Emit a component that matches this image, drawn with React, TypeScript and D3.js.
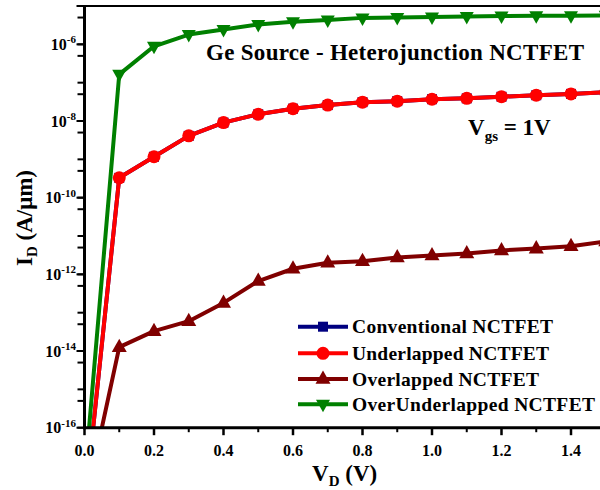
import React from "react";
import * as d3 from "d3";

const vd = [0, 0.1, 0.2, 0.3, 0.4, 0.5, 0.6, 0.7, 0.8, 0.9, 1.0, 1.1, 1.2, 1.3, 1.4, 1.5];
const conventional = [6.8e-19, 3.3e-10, 1.17e-9, 4.1e-9, 9.1e-9, 1.5e-8, 2.1e-8, 2.6e-8, 3.1e-8, 3.3e-8, 3.7e-8, 3.9e-8, 4.3e-8, 4.7e-8, 5.1e-8, 5.6e-8];
const underlapped = [6.8e-19, 3.3e-10, 1.17e-9, 4.1e-9, 9.1e-9, 1.5e-8, 2.1e-8, 2.6e-8, 3.1e-8, 3.3e-8, 3.7e-8, 3.9e-8, 4.3e-8, 4.7e-8, 5.1e-8, 5.6e-8];
const overlapped = [8e-19, 1.26e-14, 3.3e-14, 6e-14, 1.8e-13, 6.7e-13, 1.4e-12, 2e-12, 2.2e-12, 2.75e-12, 3.1e-12, 3.5e-12, 4.2e-12, 4.7e-12, 5.4e-12, 7.2e-12];
const overUnderlapped = [4e-18, 1.65e-7, 8.9e-7, 1.8e-6, 2.45e-6, 3.3e-6, 3.9e-6, 4.3e-6, 4.9e-6, 5.0e-6, 5.2e-6, 5.35e-6, 5.5e-6, 5.55e-6, 5.6e-6, 5.7e-6];

const seriesNames = ["Conventional NCTFET", "Underlapped NCTFET", "Overlapped NCTFET", "OverUnderlapped NCTFET"];
const seriesColors = ["#000080", "#ff0000", "#800000", "#008000"];
const seriesMarkers = ["square", "circle", "triangleUp", "triangleDown"];
const seriesValues = [conventional, underlapped, overlapped, overUnderlapped];
const legendWidths = [201, 197, 187, 243];

const xMajor = [0, 0.2, 0.4, 0.6, 0.8, 1.0, 1.2, 1.4];
const xMinor = [0.1, 0.3, 0.5, 0.7, 0.9, 1.1, 1.3, 1.5];
const yMajorExp = [-16, -14, -12, -10, -8, -6];

const FONT = "'Liberation Serif', 'Times New Roman', serif";

function Marker({ type, x, y, color }: { type: string; x: number; y: number; color: string }) {
  if (type === "square") return <rect x={x - 5} y={y - 5} width={10} height={10} fill={color} />;
  if (type === "circle") return <circle cx={x} cy={y} r={6.5} fill={color} />;
  if (type === "triangleUp") {
    const p = d3.path();
    p.moveTo(x, y - 8.5); p.lineTo(x + 7.5, y + 4.8); p.lineTo(x - 7.5, y + 4.8); p.closePath();
    return <path d={p.toString()} fill={color} />;
  }
  const p = d3.path();
  p.moveTo(x, y + 8); p.lineTo(x + 7, y - 4.5); p.lineTo(x - 7, y - 4.5); p.closePath();
  return <path d={p.toString()} fill={color} />;
}

export default function App() {
  const x = d3.scaleLinear().domain([0, 1.5]).range([84.5, 605.75]);
  const y = d3.scaleLog().domain([1e-16, 1e-5]).range([427.7, 6]);
  const [x0, x1] = x.range();
  const [yb, yt] = y.range();

  const line = d3.line<number>().x((_, i) => x(vd[i])).y((d) => y(d));

  const yMinor: number[] = [];
  for (let e = -16; e <= -5; e++) {
    yMinor.push(Math.pow(10, e));
    if (e < -5) yMinor.push(5 * Math.pow(10, e));
  }

  const legendRows = [326.7, 353.3, 379, 404.3];

  return (
    <svg width={600} height={490} style={{ position: "fixed", left: 0, top: 0, background: "#fff" }} fontFamily={FONT}>
      <rect x={0} y={0} width={600} height={490} fill="#fff" />
      <defs>
        <clipPath id="plotClip">
          <rect x={x0} y={yt} width={x1 - x0} height={yb - yt} />
        </clipPath>
      </defs>

      {/* series */}
      <g clipPath="url(#plotClip)">
        {seriesValues.map((vals, si) => (
          <g key={si}>
            <path d={line(vals) || ""} fill="none" stroke={seriesColors[si]} strokeWidth={4} strokeLinejoin="round" />
            {vals.map((v, i) => (i === 0 ? null : <Marker key={i} type={seriesMarkers[si]} x={x(vd[i])} y={y(v)} color={seriesColors[si]} />))}
          </g>
        ))}
      </g>

      {/* frame */}
      <line x1={x0 - 8} x2={x1} y1={yt} y2={yt} stroke="#000" strokeWidth={2} />
      <line x1={x0} x2={x0} y1={yt - 1} y2={yb + 1.5} stroke="#000" strokeWidth={3} />
      <line x1={x0 - 1.5} x2={x1} y1={yb} y2={yb} stroke="#000" strokeWidth={3} />

      {/* y ticks */}
      {yMinor.map((v, i) => (
        <line key={"ym" + i} x1={x0 - 7} x2={x0} y1={y(v)} y2={y(v)} stroke="#000" strokeWidth={2} />
      ))}
      {yMajorExp.map((e) => (
        <g key={"yl" + e}>
          <line x1={x0 - 8} x2={x0} y1={y(Math.pow(10, e))} y2={y(Math.pow(10, e))} stroke="#000" strokeWidth={2} />
          <text x={76} y={y(Math.pow(10, e)) + 5.5} textAnchor="end" fontSize={16} fontWeight="bold" fill="#000">
            10<tspan fontSize={11} dy={-6.5}>{"-" + Math.abs(e)}</tspan>
          </text>
        </g>
      ))}

      {/* x ticks */}
      {xMinor.map((v, i) => (
        <line key={"xm" + i} x1={x(v)} x2={x(v)} y1={yb} y2={yb + 4.5} stroke="#000" strokeWidth={2} />
      ))}
      {xMajor.map((v, i) => (
        <g key={"xM" + i}>
          <line x1={x(v)} x2={x(v)} y1={yb} y2={yb + 7.5} stroke="#000" strokeWidth={2.5} />
          <text x={x(v)} y={456} textAnchor="middle" fontSize={16} fontWeight="bold" fill="#000">
            {v.toFixed(1)}
          </text>
        </g>
      ))}

      {/* axis titles */}
      <text x={312} y={481} fontSize={23} fontWeight="bold" fill="#000">
        V<tspan fontSize={15} dy={5}>D</tspan>
        <tspan dy={-5}> (V)</tspan>
      </text>
      <text transform="translate(32,218) rotate(-90)" textAnchor="middle" fontSize={23} fontWeight="bold" fill="#000">
        I<tspan fontSize={15} dy={5}>D</tspan>
        <tspan dy={-5}> (A/μm)</tspan>
      </text>

      {/* annotations */}
      <text x={206} y={59.5} fontSize={23} fontWeight="bold" fill="#000" textLength={378} lengthAdjust="spacing">
        Ge Source - Heterojunction NCTFET
      </text>
      <text x={468} y={135} fontSize={23} fontWeight="bold" fill="#000">
        V<tspan fontSize={15} dy={6}>gs</tspan>
        <tspan dy={-6}> = 1V</tspan>
      </text>

      {/* legend */}
      {seriesNames.map((name, i) => (
        <g key={"lg" + i}>
          <line x1={298} x2={348} y1={legendRows[i]} y2={legendRows[i]} stroke={seriesColors[i]} strokeWidth={4} />
          <Marker type={seriesMarkers[i]} x={323} y={legendRows[i]} color={seriesColors[i]} />
          <text x={352} y={legendRows[i] + 6.5} fontSize={19.5} fontWeight="bold" fill="#000" textLength={legendWidths[i]} lengthAdjust="spacing">
            {name}
          </text>
        </g>
      ))}
    </svg>
  );
}
